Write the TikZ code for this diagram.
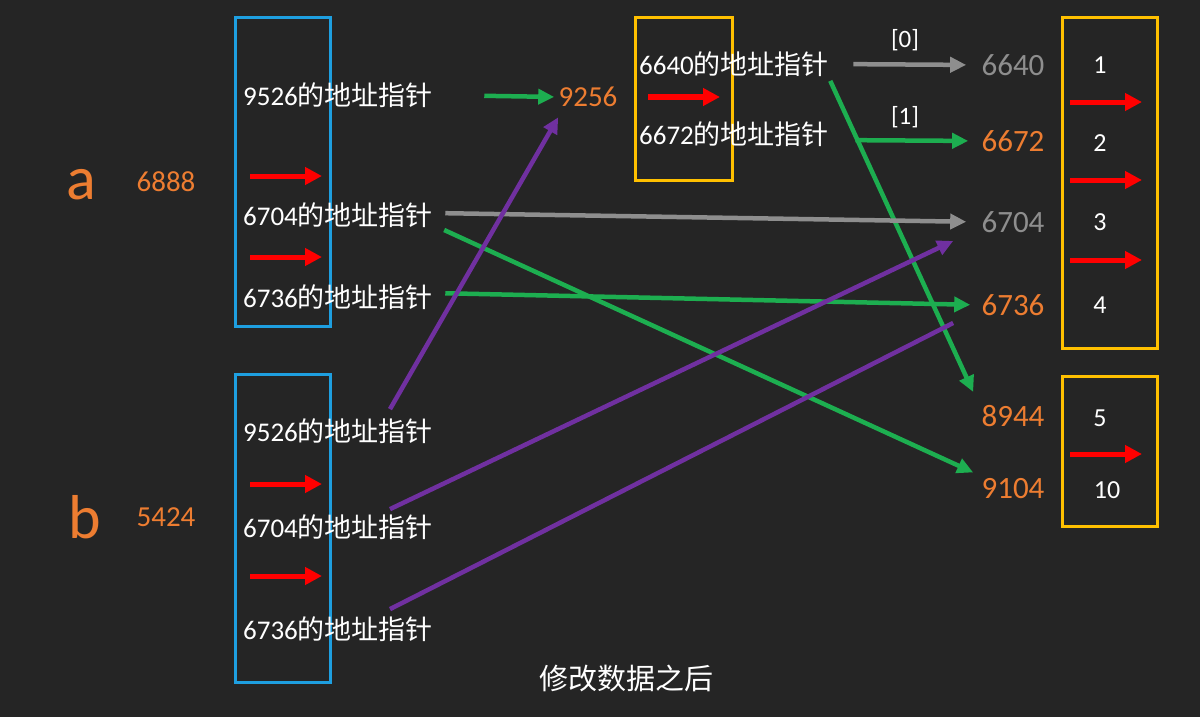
\documentclass[tikz,border=0pt]{standalone}
\usepackage{fontspec}
\setmainfont{Carlito}
\newfontfamily\cjk{Noto Sans CJK SC}
\usetikzlibrary{arrows.meta}
\definecolor{bgdark}{HTML}{252525}
\definecolor{addrorange}{HTML}{ED7D31}
\definecolor{addrgrey}{HTML}{8E8E8E}
\definecolor{boxblue}{HTML}{1E9FE0}
\definecolor{boxyellow}{HTML}{FFC000}
\definecolor{linkgreen}{HTML}{1DAE50}
\definecolor{linkpurple}{HTML}{7030A0}

\begin{document}
\begin{tikzpicture}[x=1pt, y=-1pt, thick, node distance=80pt]
        \tikzstyle{ptr}=[text=white, inner sep=0pt, font=\fontsize{27}{30}\selectfont]
        \tikzstyle{addr}=[text=addrorange, inner sep=0pt, font=\fontsize{31}{34}\selectfont]
        \tikzstyle{val}=[text=white, inner sep=0pt, font=\fontsize{26}{30}\selectfont]
        \tikzstyle{bluebox}=[rectangle, draw=boxblue, line width=3pt, minimum width=95pt, inner sep=0pt]
        \tikzstyle{yellowbox}=[rectangle, draw=boxyellow, line width=3pt, minimum width=95pt, inner sep=0pt]
        \tikzstyle{redarrow}=[draw=red, line width=5pt, -{Triangle[length=17pt, width=17pt]}]
        \tikzstyle{link}=[line width=4.5pt, -{Triangle[length=16pt, width=15pt]}]

        \fill[bgdark] (0,0) rectangle (1200,717);
        \useasboundingbox (0,0) rectangle (1200,717);

        % boxes
        \node[bluebox, minimum height=308pt] (boxa) at (282.5,172) {};
        \node[bluebox, minimum height=308pt] (boxb) at (282.5,528) {};
        \node[yellowbox, minimum width=97pt, minimum height=162pt] (boxc) at (683.5,99) {};
        \node[yellowbox, minimum height=330pt] (boxlist) at (1109.5,183) {};
        \node[yellowbox, minimum height=150pt] (boxdict) at (1109.5,451) {};

        % variables
        \node[text=addrorange, inner sep=0pt, anchor=base, font=\fontsize{62}{66}\selectfont] (vara) at (81,199) {a};
        \node[text=addrorange, inner sep=0pt, anchor=base, font=\fontsize{62}{66}\selectfont] (varb) at (85,538) {b};
        \node[addr, font=\fontsize{29}{32}\selectfont] (ida) at (166,182) {6888};
        \node[addr, font=\fontsize{29}{32}\selectfont] (idb) at (166,517) {5424};

        % pointers of a and b
        \node[ptr] (a1) at (338,95) {9526{\cjk 的地址指针}};
        \node[ptr, below of=a1, node distance=120pt] (a2) {6704{\cjk 的地址指针}};
        \node[ptr, below of=a2, node distance=82pt] (a3) {6736{\cjk 的地址指针}};
        \node[ptr] (b1) at (338,431) {9526{\cjk 的地址指针}};
        \node[ptr, below of=b1, node distance=96pt] (b2) {6704{\cjk 的地址指针}};
        \node[ptr, below of=b2, node distance=102pt] (b3) {6736{\cjk 的地址指针}};
        \node[ptr] (c1) at (734,64) {6640{\cjk 的地址指针}};
        \node[ptr, below of=c1, node distance=70pt] (c2) {6672{\cjk 的地址指针}};

        % objects
        \node[addr, font=\fontsize{29}{32}\selectfont] (n9256) at (588,97) {9256};
        \node[addr, text=addrgrey] (n6640) at (1013,65) {6640};
        \node[addr, below of=n6640, node distance=76pt] (n6672) {6672};
        \node[addr, text=addrgrey, below of=n6672, node distance=81pt] (n6704) {6704};
        \node[addr, below of=n6704, node distance=83pt] (n6736) {6736};
        \node[addr] (n8944) at (1013,416) {8944};
        \node[addr, below of=n8944, node distance=73pt] (n9104) {9104};

        \node[val] (v1) at (1100,65) {1};
        \node[val, below of=v1, node distance=78pt] (v2) {2};
        \node[val, below of=v2, node distance=79pt] (v3) {3};
        \node[val, below of=v3, node distance=83pt] (v4) {4};
        \node[val] (v5) at (1100,418) {5};
        \node[val] (v10) at (1107,490) {10};

        \node[val, font=\fontsize{25}{28}\selectfont] (idx0) at (905,40) {[0]};
        \node[val, font=\fontsize{25}{28}\selectfont] (idx1) at (905,117) {[1]};

        \node[text=white, inner sep=0pt, font=\cjk\fontsize{29}{32}\selectfont] (caption) at (626,678) {修改数据之后};

        % arrows inside the boxes
        \draw[redarrow] (250,176) -- (322,176);
        \draw[redarrow] (250,257) -- (322,257);
        \draw[redarrow] (250,484) -- (322,484);
        \draw[redarrow] (250,576) -- (322,576);
        \draw[redarrow] (648,97) -- (720,97);
        \draw[redarrow] (1070,102) -- (1142,102);
        \draw[redarrow] (1070,180) -- (1142,180);
        \draw[redarrow] (1070,260) -- (1142,260);
        \draw[redarrow] (1070,454) -- (1142,454);

        % links
        \draw[link, linkgreen, shorten <=51pt, shorten >=4pt] (a1.east) -- (n9256.west);
        \draw[link, addrgrey, shorten <=24pt, shorten >=15pt] (c1.east) -- (n6640.west);
        \draw[link, linkgreen, shorten <=26pt, shorten >=13pt] ([yshift=-6pt]c2.east) -- (n6672.west);
        \draw[link, linkgreen] ([xshift=1pt, yshift=-4pt]c1.south east) -- ([shift={(-8pt,13pt)}]n8944.north west);
        \draw[link, addrgrey, shorten <=12pt, shorten >=15pt] ([yshift=2pt]a2.east) -- (n6704.west);
        \draw[link, linkgreen, shorten <=12pt] ([yshift=-10pt]a2.east) -- ([shift={(-8pt,6pt)}]n9104.north west);
        \draw[link, linkgreen, shorten <=12pt, shorten >=11pt] ([yshift=4pt]a3.east) -- (n6736.west);
        \draw[link, linkpurple] ([shift={(52pt,9pt)}]b1.north) -- ([yshift=-10pt]n9256.south west);
        \draw[link, linkpurple] ([shift={(52pt,5pt)}]b2.north) -- ([shift={(-28pt,-8pt)}]n6704.south west);
        \draw[line width=4.5pt, linkpurple] ([shift={(52pt,7pt)}]b3.north) -- ([shift={(-28pt,-7pt)}]n6736.south west);
    \end{tikzpicture}
\end{document}
